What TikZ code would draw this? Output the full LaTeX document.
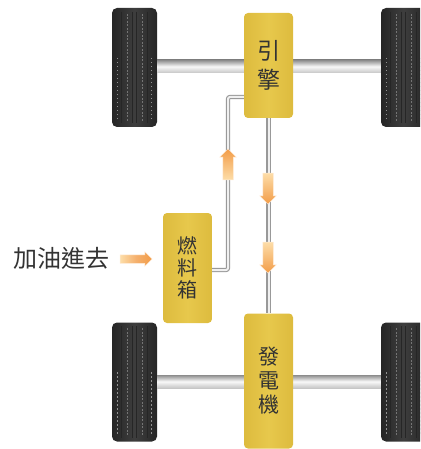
\documentclass[tikz,border=0pt]{standalone}
\usepackage{fontspec}
\newfontfamily\cjk{Noto Sans CJK TC}
\usetikzlibrary{shapes.arrows,calc}
\definecolor{boxyellow}{HTML}{E7C84C}
\definecolor{boxedge}{HTML}{DDBB3E}
\definecolor{tyre}{HTML}{3E3E3E}
\definecolor{tyredark}{HTML}{262626}
\definecolor{tyrelight}{HTML}{757575}
\definecolor{flowlight}{HTML}{FDDDA8}
\definecolor{flowdark}{HTML}{F29C48}
\definecolor{inktext}{HTML}{333333}
\begin{document}
\begin{tikzpicture}[x=1pt,y=-1pt,
  wheel/.style={rounded corners=5pt, minimum width=45pt, minimum height=119pt,
    inner sep=0pt, left color=tyredark, right color=tyredark, middle color=tyre},
  part/.style={rounded corners=4pt, minimum width=49pt, inner sep=0pt,
    left color=boxedge, right color=boxedge, middle color=boxyellow,
    text=inktext, align=center},
  pipe/.style={draw=gray!80, line width=1.1pt, double=gray!12,
    double distance=2pt, rounded corners=2pt},
  axle/.style={top color=gray!90, bottom color=gray!45, middle color=white!95!gray},
  flow/.style={single arrow, single arrow head extend=3pt, inner sep=5pt,
    minimum height=31pt, draw=white!85!orange, line width=0.5pt},
  label/.style={text=inktext, font=\cjk\fontsize{24}{24}\selectfont}
]
\useasboundingbox (0,0) rectangle (420,449);
\clip (0,0) rectangle (420,449);

% tyres
\node[wheel] (wTL) at (134.5,67.5) {};
\node[wheel] (wTR) at (403.5,67.5) {};
\node[wheel] (wBL) at (134.5,382) {};
\node[wheel] (wBR) at (403.5,382) {};
\foreach \w in {wTL,wTR,wBL,wBR}{
  \foreach \f in {0.22,0.45,0.55,0.78}
    \draw[tyredark, line width=0.8pt]
      ($(\w.north west)!\f!(\w.north east)+(0,4)$) -- ($(\w.south west)!\f!(\w.south east)+(0,-4)$);
  \foreach \f in {0.33,0.67}
    \draw[tyrelight, line width=0.4pt, dash pattern=on 2pt off 1.5pt]
      ($(\w.north west)!\f!(\w.north east)+(0,6)$) -- ($(\w.south west)!\f!(\w.south east)+(0,-6)$);
  \foreach \f in {0.12,0.88}
    \draw[tyrelight!80, line width=1.2pt, dash pattern=on 1.5pt off 2.5pt]
      ($(\w.north west)!\f!(\w.north east)+(0,50)$) -- ($(\w.south west)!\f!(\w.south east)+(0,-8)$);
}

% axles
\shade[axle] ($(wTL.east)+(0,-7.5)$) rectangle ($(wTR.west)+(0,5.5)$);
\shade[axle] ($(wBL.east)+(0,-7)$) rectangle ($(wBR.west)+(0,6)$);

% main parts
\node[part, minimum height=105pt, font=\cjk\fontsize{23}{29}\selectfont] (engine) at (268.5,65.5)
  {\raisebox{-4pt}{\parbox{30pt}{\centering 引\\擎}}};
\node[part, minimum height=110pt, font=\cjk\fontsize{20}{22}\selectfont] (tank) at (187.5,268)
  {\parbox{30pt}{\centering 燃\\料\\箱}};
\node[part, minimum height=135pt, font=\cjk\fontsize{21}{24}\selectfont] (gen) at (268.5,381)
  {\parbox{30pt}{\centering 發\\電\\機}};

% fuel and power lines
\coordinate (bend) at (228,97);
\draw[pipe] ($(tank.east)+(0,2)$) -| (bend) -- (bend -| engine.west);
\draw[pipe] (engine.south) -- (gen.north);

% flow arrows
\node[flow, shape border rotate=90, top color=flowdark, bottom color=flowlight] (up1) at (228,167) {};
\node[flow, shape border rotate=270, top color=flowlight, bottom color=flowdark] (down1) at (268,186) {};
\node[flow, shape border rotate=270, top color=flowlight, bottom color=flowdark] (down2) at (268,255) {};

% refuelling label
\node[label] (refuel) at (61,258) {加油進去};
\node[flow, inner sep=4pt, minimum height=32pt, left color=flowlight, right color=flowdark,
  middle color=flowdark!80!white] (inarrow) at (134,259) {};
\end{tikzpicture}
\end{document}
